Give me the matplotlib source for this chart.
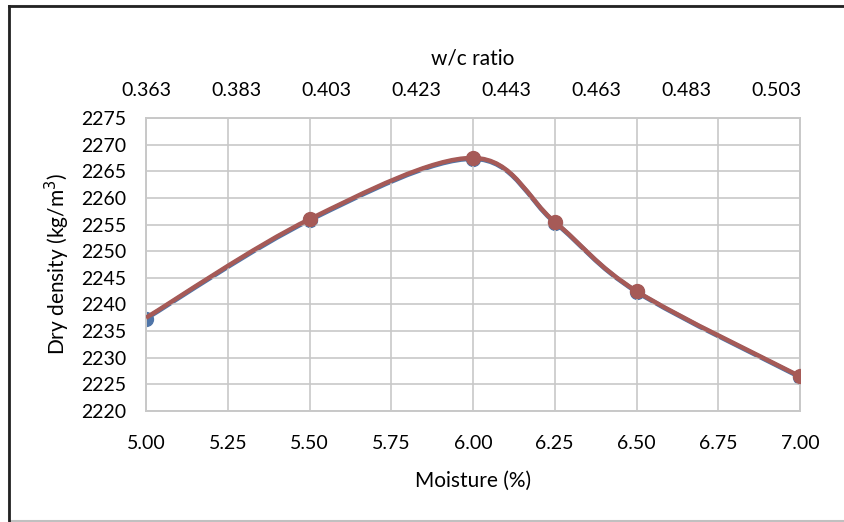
import numpy as np
import matplotlib.pyplot as plt
from matplotlib.path import Path
from matplotlib.patches import PathPatch, Rectangle

plt.rcParams['font.family'] = ['Lato', 'DejaVu Sans']

moisture = [5.00, 5.50, 6.00, 6.25, 6.50, 7.00]
density = [2237.5, 2256.0, 2267.5, 2255.5, 2242.5, 2226.5]
wc_ratio = [0.363, 0.3994, 0.4357, 0.4539, 0.4721, 0.5084]

x_ticks = [5.00, 5.25, 5.50, 5.75, 6.00, 6.25, 6.50, 6.75, 7.00]
wc_ticks = [0.363, 0.383, 0.403, 0.423, 0.443, 0.463, 0.483, 0.503]
y_ticks = list(range(2220, 2280, 5))

RED = "#a65a57"
BLUE = "#4f75a8"
GRID = "#c8c8c8"


def smooth_path(xs, ys):
    # Excel-style smoothed line: Catmull-Rom segments as cubic Beziers
    pts = np.column_stack([xs, ys]).astype(float)
    n = len(pts)
    verts = [pts[0]]
    codes = [Path.MOVETO]
    for i in range(n - 1):
        p0 = pts[i - 1] if i > 0 else pts[i]
        p1, p2 = pts[i], pts[i + 1]
        p3 = pts[i + 2] if i + 2 < n else pts[i + 1]
        c1 = p1 + (p2 - p0) / 6.0
        c2 = p2 - (p3 - p1) / 6.0
        verts += [c1, c2, p2]
        codes += [Path.CURVE4] * 3
    return Path(verts, codes)


fig = plt.figure(figsize=(8.44, 5.22), dpi=100)
ax = fig.add_axes([146 / 844, 1 - 411 / 522, 654 / 844, 293 / 522])
ax2 = ax.twiny()

ax.set_xlim(5.0, 7.0)
ax.set_ylim(2220, 2275)
ax2.set_xlim(0.363, 0.363 + 0.14 * 654 / 630)

# blue series (w/c ratio, top axis) sits under the red one
blue_y = np.array(density) - 0.15
ax2.add_patch(PathPatch(smooth_path(wc_ratio, blue_y),
                        fc="none", ec=BLUE, lw=3.4, capstyle="round", zorder=2))
ax2.plot(wc_ratio, blue_y, "o", color=BLUE, ms=10, zorder=2)

ax.set_zorder(ax2.get_zorder() + 1)
ax.patch.set_visible(False)
ax.add_patch(PathPatch(smooth_path(moisture, density),
                       fc="none", ec=RED, lw=3.2, capstyle="butt", zorder=3))
ax.plot(moisture[1:], density[1:], "o", color=RED, ms=10, zorder=3)

ax.set_xticks(x_ticks)
ax.set_xticklabels([f"{v:.2f}" for v in x_ticks])
ax.set_yticks(y_ticks)
ax2.set_xticks(wc_ticks)
ax2.set_xticklabels([f"{v:.3f}" for v in wc_ticks])

ax.grid(True, color=GRID, lw=1.2)
ax.set_axisbelow(True)
for a in (ax, ax2):
    for s in a.spines.values():
        s.set_color(GRID)
        s.set_linewidth(1.2)
    a.tick_params(length=0, labelsize=14, colors="#000000")
ax.tick_params(axis="x", pad=17)
ax.tick_params(axis="y", pad=14)
ax2.tick_params(axis="x", pad=14)

ax.set_xlabel("Moisture (%)", fontsize=15, labelpad=14)
ax.set_ylabel("Dry density (kg/m$^3$)", fontsize=15, labelpad=7)
ax2.set_xlabel("w/c ratio", fontsize=15, labelpad=12)

# chart frame
fig.add_artist(Rectangle((9 / 844, 1 / 522), 1.0, 515 / 522, transform=fig.transFigure,
                         fc="none", ec="#c0c0c0", lw=1.5))
fig.add_artist(plt.Line2D([9 / 844, 9 / 844], [1 / 522, 516 / 522],
                          transform=fig.transFigure, color="#222222", lw=2))
fig.add_artist(plt.Line2D([9 / 844, 1.0], [516 / 522, 516 / 522],
                          transform=fig.transFigure, color="#222222", lw=2))

fig.savefig("out.png", dpi=100)
